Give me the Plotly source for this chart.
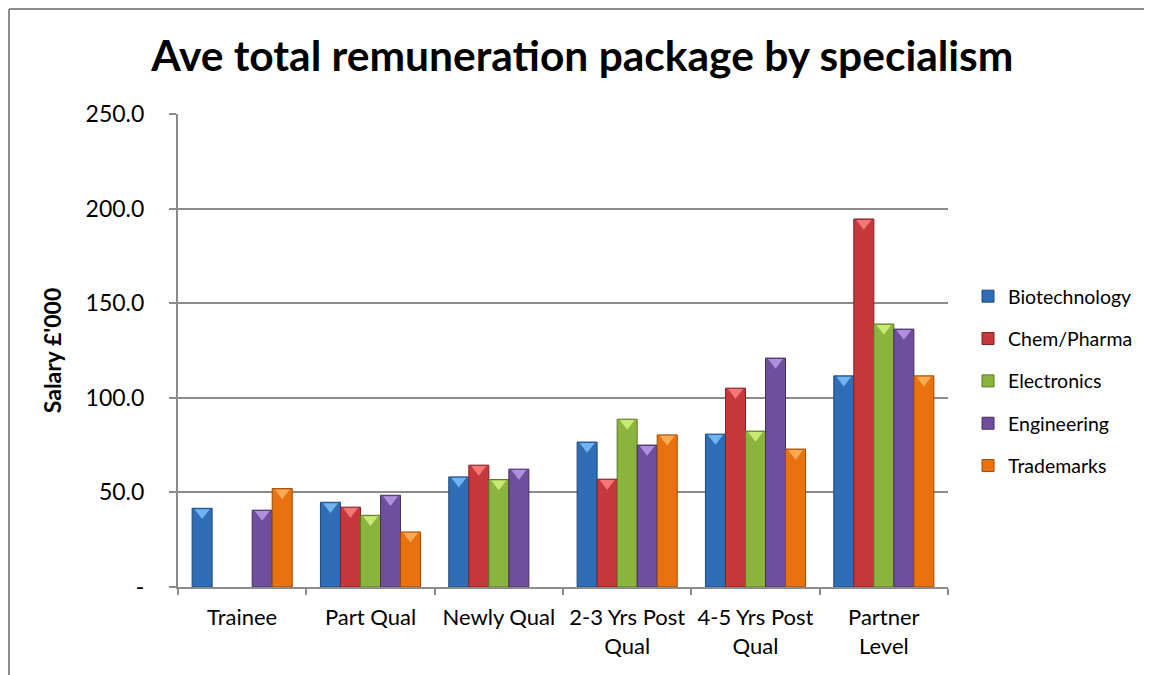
import plotly.graph_objects as go

categories = ["Trainee", "Part Qual", "Newly Qual", "2-3 Yrs Post<br>Qual", "4-5 Yrs Post<br>Qual", "Partner<br>Level"]
biotechnology = [41.6, 44.8, 58.2, 76.6, 80.8, 111.6]
chem_pharma = [None, 42.2, 64.4, 57.0, 105.1, 194.5]
electronics = [None, 37.9, 56.8, 88.7, 82.4, 139.0]
engineering = [40.6, 48.5, 62.3, 75.0, 121.0, 136.3]
trademarks = [52.0, 29.1, None, 80.4, 72.9, 111.6]

series_names = ["Biotechnology", "Chem/Pharma", "Electronics", "Engineering", "Trademarks"]
series_values = [biotechnology, chem_pharma, electronics, engineering, trademarks]
colors = ["#2F6DB6", "#C8383B", "#8AB43C", "#6F4E9C", "#EA720E"]
edge_colors = ["#1F4A7C", "#7E2022", "#5B7A26", "#45305F", "#9A4A08"]
tip_colors = ["#6EB4F0", "#F2787A", "#C8EA74", "#B08EE0", "#F8AA55"]

y_tickvals = [0, 50, 100, 150, 200, 250]
y_ticktext = ["-", "50.0", "100.0", "150.0", "200.0", "250.0"]

FONT = "Lato, 'Open Sans', sans-serif"

fig = go.Figure()
for name, vals, c, ec in zip(series_names, series_values, colors, edge_colors):
    fig.add_trace(go.Bar(
        name=name, x=categories, y=vals, offsetgroup=name,
        marker=dict(color=c, line=dict(color=ec, width=1)),
        legendgroup=name,
    ))
# bevel tips
for name, vals, tc in zip(series_names, series_values, tip_colors):
    fig.add_trace(go.Scatter(
        x=categories, y=[None if v is None else v - 2.2 for v in vals],
        mode="markers", offsetgroup=name, showlegend=False, hoverinfo="skip",
        marker=dict(symbol="triangle-down", size=13, color=tc, line=dict(width=0)),
    ))

border = dict(color="#8C8C8C", width=2)
fig.update_layout(
    width=1144, height=667,
    paper_bgcolor="white", plot_bgcolor="white",
    margin=dict(l=170, r=204, t=106, b=88),
    barmode="group", bargap=0.22, bargroupgap=0,
    scattermode="group", scattergap=0.22,
    font=dict(family=FONT, color="#000000"),
    title=dict(text="<b>Ave total remuneration package by specialism</b>",
               x=0.502, xanchor="center", y=0.928, yanchor="middle",
               font=dict(size=42.5, family=FONT, color="#000000")),
    legend=dict(x=1.026, xanchor="left", y=0.4355, yanchor="middle",
                font=dict(size=19.5, family=FONT), tracegroupgap=14,
                bgcolor="rgba(0,0,0,0)"),
    showlegend=True,
    shapes=[
        dict(type="line", xref="paper", yref="paper", x0=-0.2195, x1=1.4, y0=1.222, y1=1.222,
             line=border, layer="below"),
        dict(type="line", xref="paper", yref="paper", x0=-0.2195, x1=-0.2195, y0=-0.4, y1=1.222,
             line=border, layer="below"),
    ],
)
fig.update_xaxes(
    type="category", showline=True, linecolor="#8C8C8C", linewidth=2,
    ticks="outside", tickson="boundaries", ticklen=6, tickcolor="#8C8C8C", tickwidth=2,
    tickfont=dict(size=22, family=FONT), showgrid=False, ticklabelstandoff=10,
)
fig.update_yaxes(
    range=[0, 250], tickvals=y_tickvals, ticktext=y_ticktext,
    showline=True, linecolor="#8C8C8C", linewidth=2,
    ticks="outside", ticklen=7, tickcolor="#8C8C8C", tickwidth=2,
    showgrid=True, gridcolor="#8C8C8C", gridwidth=2, zeroline=False,
    tickfont=dict(size=23, family=FONT), ticklabelstandoff=20,
    title=dict(text="<b>Salary £'000</b>", font=dict(size=23, family=FONT), standoff=18),
)

fig.write_html("out.html")
